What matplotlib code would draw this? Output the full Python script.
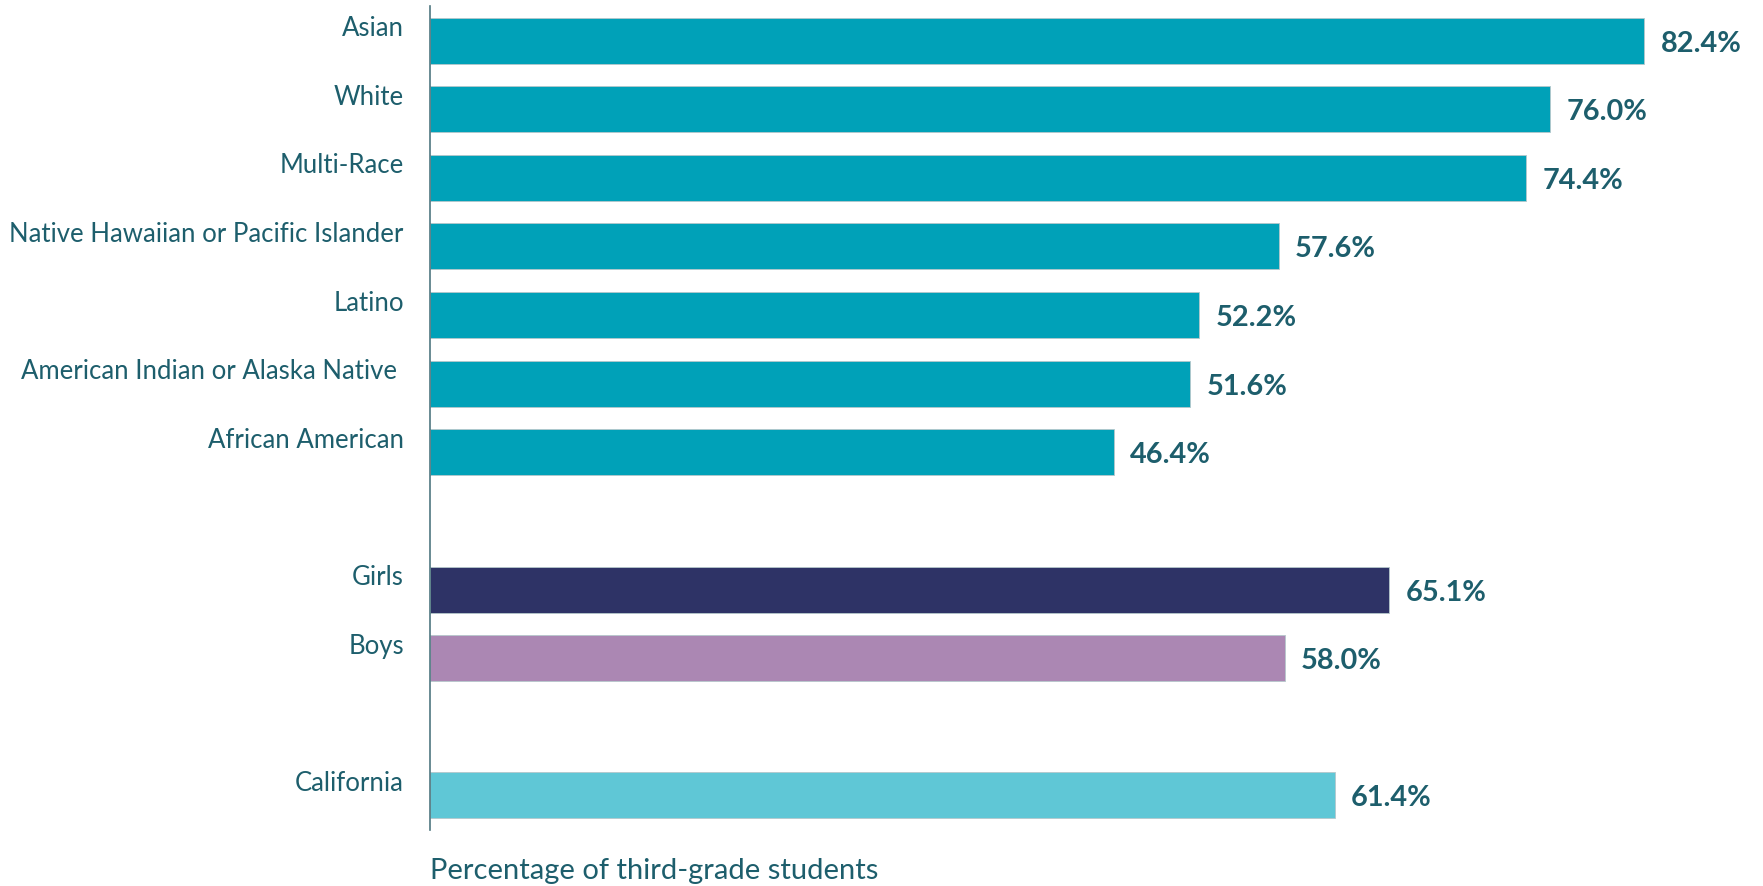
import matplotlib
matplotlib.use("Agg")
import matplotlib.pyplot as plt

# third-grade students by group (percent)
groups = ["Asian", "White", "Multi-Race", "Native Hawaiian or Pacific Islander",
          "Latino", "American Indian or Alaska Native ", "African American",
          "Girls", "Boys", "California"]
values = [82.4, 76.0, 74.4, 57.6, 52.2, 51.6, 46.4, 65.1, 58.0, 61.4]
rows = [0, 1, 2, 3, 4, 5, 6, 8, 9, 11]
colors = ["#00A1B8"] * 7 + ["#2E3366", "#AB87B3", "#5FC7D6"]

TXT = "#1D5E6C"
plt.rcParams["font.family"] = ["Lato", "DejaVu Sans"]

fig = plt.figure(figsize=(17.63, 8.87), dpi=100)
ax = fig.add_axes([0.2437, 0.0635, 1 - 0.2437, 0.9283])

ax.barh(rows, values, height=0.67, color=colors, edgecolor="#b5c7cb", linewidth=0.6)

for r, v in zip(rows, values):
    ax.text(v + 1.1, r + 0.03, f"{v:.1f}%", ha="left", va="center",
            fontsize=20.8, fontweight="bold", color=TXT)

# category names sit a bit above the middle of each bar
for r, g in zip(rows, groups):
    ax.text(-1.75, r - 0.19, g, ha="right", va="center", fontsize=18.5, color=TXT)

ax.set_xlim(0, 90.45)
ax.set_ylim(11.5, -0.5)
ax.set_xticks([])
ax.set_yticks([])
for s in ["top", "right", "bottom"]:
    ax.spines[s].set_visible(False)
ax.spines["left"].set_color("#4f7780")
ax.spines["left"].set_linewidth(1.2)

fig.text(0.2437, 1 - 879 / 887, "Percentage of third-grade students",
         ha="left", va="baseline", fontsize=21, color=TXT)

fig.savefig("out.png", dpi=100, facecolor="white")
